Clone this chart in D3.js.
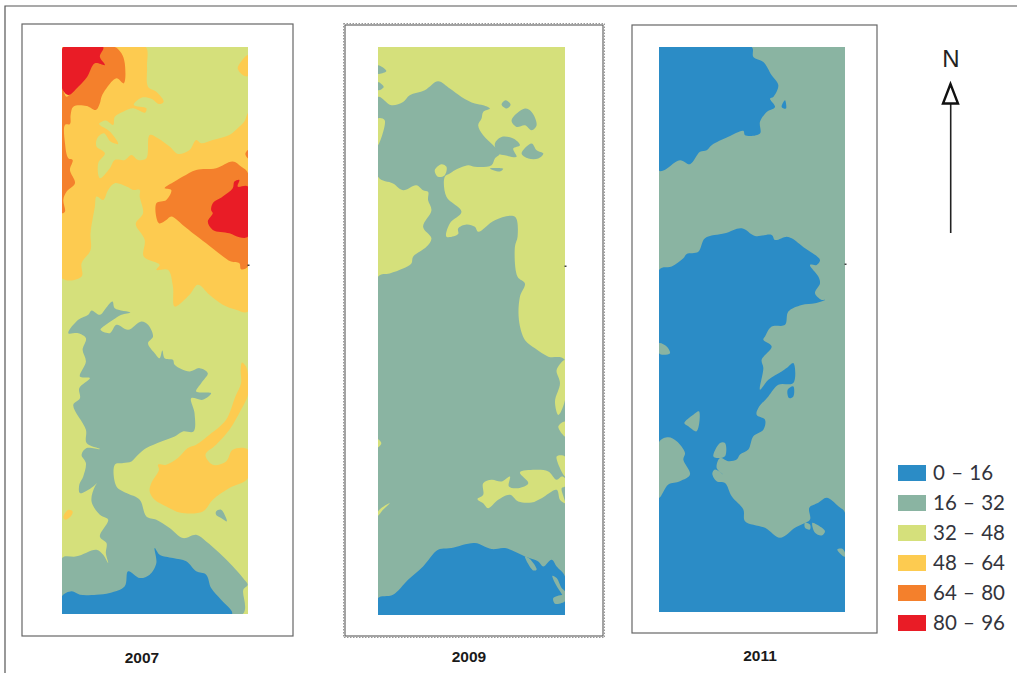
<!DOCTYPE html>
<html>
<head>
<meta charset="utf-8">
<title>Map series 2007 - 2011</title>
<script src="https://cdn.jsdelivr.net/npm/d3@7"></script>
<style>
  html, body { margin: 0; padding: 0; background: #fff; overflow: hidden; }
  svg { display: block; }
</style>
</head>
<body>
<div id="chart"></div>
<script>
// legend classes
const classLabels = ['0 – 16', '16 – 32', '32 – 48', '48 – 64', '64 – 80', '80 – 96'];
const classColors = ['#2b8cc6', '#8ab4a2', '#d5e07b', '#fdcb50', '#f4802c', '#e91c26'];
const years = ['2007', '2009', '2011'];

// region outlines, in map units of each year's map
const y2007Yellow = [[365,141],[438,141],[442,200],[445,260],[470,275],[492,305],[478,312],[455,296],[425,293],[402,315],[440,325],[436,338],[400,325],[370,335],[345,350],[340,375],[318,362],[298,372],[330,395],[355,432],[332,425],[312,400],[292,415],[290,440],[315,460],[295,490],[300,535],[330,505],[345,480],[375,480],[395,465],[415,480],[440,475],[450,405],[475,415],[510,440],[535,462],[570,450],[590,420],[605,430],[640,420],[690,405],[715,385],[735,365],[746,340],[746,935],[710,930],[670,915],[630,885],[595,855],[570,885],[525,920],[520,860],[505,810],[470,810],[480,795],[432,770],[435,720],[408,672],[430,640],[420,590],[420,570],[400,570],[380,560],[345,550],[325,570],[310,600],[290,590],[285,620],[272,700],[272,750],[245,790],[245,830],[186,835],[186,141]];
const y2007YellowTop = [[746,165],[725,185],[715,205],[730,225],[746,228]];
const y2007YellowTail = [[728,1088],[740,1100],[746,1125],[746,1185],[725,1230],[690,1290],[650,1335],[618,1365],[640,1395],[680,1385],[700,1350],[746,1350],[746,1435],[690,1465],[640,1500],[610,1535],[540,1538],[500,1520],[465,1500],[450,1475],[455,1450],[478,1410],[475,1395],[500,1395],[535,1375],[565,1345],[590,1335],[630,1305],[680,1260],[708,1190],[725,1150],[724,1110]];
const y2007YellowSpot = [[190,1552],[205,1530],[218,1535],[212,1550],[195,1560]];
const y2007OrangeTop = [[300,141],[345,141],[365,160],[375,190],[372,250],[350,235],[320,265],[305,290],[300,310],[288,330],[260,318],[220,320],[212,345],[210,372],[195,375],[195,430],[205,475],[218,480],[210,510],[225,550],[200,575],[190,600],[195,635],[186,640],[186,260],[200,290]];
const y2007OrangeMid = [[470,610],[500,600],[515,570],[495,565],[525,545],[550,530],[590,510],[650,505],[700,485],[725,500],[746,520],[746,800],[725,808],[720,790],[695,785],[665,765],[620,730],[580,700],[555,680],[515,650],[500,660],[478,670]];
const y2007OrangeEdge = [[746,450],[738,462],[746,475]];
const y2007RedTop = [[190,141],[310,141],[300,170],[315,195],[285,190],[262,230],[235,260],[205,285],[186,265],[186,175]];
const y2007RedMid = [[746,560],[715,560],[720,540],[705,545],[700,565],[670,590],[640,610],[635,630],[640,640],[625,665],[640,690],[690,700],[720,712],[746,710]];
const y2007Teal = [[205,1000],[235,960],[265,945],[275,932],[300,945],[318,925],[338,905],[345,925],[392,938],[365,945],[340,960],[318,975],[302,990],[330,1000],[350,975],[385,990],[425,965],[445,975],[460,1010],[445,1030],[465,1060],[480,1075],[488,1052],[495,1075],[520,1080],[525,1095],[570,1115],[600,1105],[625,1120],[605,1150],[590,1175],[635,1180],[610,1200],[575,1195],[585,1240],[582,1295],[550,1295],[525,1310],[485,1325],[440,1345],[415,1365],[395,1385],[370,1390],[345,1395],[350,1460],[380,1480],[420,1500],[440,1550],[470,1560],[510,1585],[550,1615],[590,1605],[620,1625],[660,1660],[700,1700],[735,1740],[745,1755],[732,1770],[730,1843],[186,1843],[186,1675],[230,1670],[290,1650],[310,1665],[325,1690],[318,1660],[320,1630],[300,1610],[325,1560],[300,1545],[275,1505],[285,1460],[310,1430],[280,1460],[240,1480],[238,1455],[250,1430],[258,1390],[245,1365],[260,1345],[300,1348],[260,1330],[258,1290],[220,1215],[240,1195],[238,1165],[270,1135],[240,1130],[258,1085],[248,1050],[258,1015],[235,1000]];
const y2007TealSpot = [[650,1535],[665,1530],[680,1555],[682,1565],[665,1555],[650,1545]];
const y2007Blue = [[186,1790],[215,1775],[240,1785],[290,1785],[330,1780],[375,1760],[385,1715],[420,1735],[450,1725],[470,1690],[465,1645],[480,1665],[520,1675],[560,1685],[590,1715],[620,1725],[635,1765],[665,1800],[698,1843],[186,1843]];

const y2009Teal = [[130,260],[170,285],[205,275],[225,255],[270,240],[310,213],[345,235],[380,260],[420,280],[445,285],[465,295],[445,305],[440,325],[430,345],[445,375],[480,410],[495,430],[480,445],[470,465],[420,470],[400,465],[360,480],[345,490],[330,500],[335,560],[380,605],[345,640],[335,680],[370,672],[370,655],[395,643],[420,650],[430,665],[480,630],[540,620],[548,680],[540,710],[548,800],[570,820],[555,860],[552,930],[570,990],[600,1015],[640,1040],[690,1050],[690,1816],[130,1816],[130,800],[165,790],[205,775],[230,760],[235,740],[275,710],[290,685],[265,650],[290,600],[280,570],[280,545],[265,540],[245,525],[205,540],[175,520],[130,500]];
const y2009TealLeftA = [[130,165],[155,182],[130,190]];
const y2009TealLeftB = [[130,215],[147,230],[130,240]];
const y2009IslandA = [[500,283],[512,270],[527,283],[515,295]];
const y2009IslandB = [[530,330],[570,295],[590,305],[605,345],[590,360],[570,345],[545,350]];
const y2009IslandC = [[480,400],[500,380],[535,385],[555,405],[535,415],[545,440],[510,435],[490,430]];
const y2009IslandD = [[560,430],[590,400],[605,420],[625,430],[610,445],[580,445]];
const y2009IslandE = [[465,475],[505,476],[495,484]];
const y2009GreenWedge = [[130,405],[150,330],[130,325]];
const y2009GreenStar = [[300,480],[320,462],[335,470],[330,495],[310,500]];
const y2009GreenEdgeA = [[690,1050],[665,1080],[675,1120],[660,1175],[670,1215],[690,1170]];
const y2009GreenEdgeB = [[690,1235],[670,1250],[690,1280]];
const y2009GreenEdgeC = [[665,1340],[690,1340],[690,1400]];
const y2009GreenIsland = [[428,1468],[445,1455],[445,1420],[470,1410],[500,1415],[525,1400],[522,1430],[550,1435],[580,1420],[555,1388],[600,1380],[640,1385],[665,1410],[680,1400],[690,1405],[690,1430],[680,1435],[690,1480],[675,1470],[665,1440],[620,1465],[590,1478],[550,1475],[525,1455],[490,1470],[460,1495],[445,1480]];
const y2009GreenLeftA = [[130,1505],[165,1480],[145,1500],[130,1518]];
const y2009GreenLeftB = [[130,1288],[140,1300],[130,1312]];
const y2009Blue = [[130,1765],[175,1755],[220,1710],[265,1670],[310,1620],[350,1615],[420,1600],[470,1618],[510,1615],[570,1640],[610,1655],[625,1670],[650,1650],[665,1670],[690,1700],[690,1816],[130,1816]];
const y2009InletA = [[652,1698],[665,1705],[680,1735],[690,1745],[690,1765],[675,1745],[660,1720]];
const y2009InletB = [[655,1765],[690,1757],[690,1775],[660,1782]];
const y2009InletC = [[570,1640],[585,1648],[605,1680],[595,1682]];

const y2011BlueTop = [[102,110],[380,110],[385,140],[415,155],[440,195],[460,225],[445,260],[435,265],[450,290],[425,305],[405,335],[405,370],[360,375],[355,362],[310,380],[260,405],[245,420],[225,425],[195,462],[165,450],[102,482]];
const y2011BlueTip = [[470,290],[480,270],[483,295]];
const y2011Blue = [[102,780],[140,770],[175,745],[185,732],[220,725],[240,685],[300,670],[350,655],[390,678],[440,675],[450,690],[485,680],[500,685],[540,715],[585,750],[575,765],[555,765],[580,800],[585,820],[570,850],[590,870],[600,870],[570,880],[530,885],[490,905],[480,945],[440,950],[420,980],[415,990],[440,1010],[410,1050],[415,1075],[405,1140],[430,1110],[470,1085],[485,1075],[505,1060],[505,1120],[460,1125],[430,1160],[400,1195],[395,1215],[420,1230],[415,1260],[385,1280],[370,1320],[345,1335],[335,1350],[310,1355],[285,1345],[275,1375],[295,1395],[270,1380],[262,1392],[275,1415],[300,1420],[320,1460],[355,1500],[360,1535],[420,1555],[465,1585],[510,1555],[530,1545],[555,1530],[553,1495],[580,1480],[605,1465],[640,1490],[660,1510],[660,1808],[102,1808]];
const y2011BlueIslet = [[488,1140],[505,1130],[505,1160],[492,1165]];
const y2011TealLeft = [[102,1297],[130,1283],[155,1295],[180,1330],[175,1350],[195,1395],[165,1415],[130,1425],[102,1465]];
const y2011TealUpper = [[102,1000],[125,1010],[135,1030],[115,1035],[102,1030]];
const y2011TealIsletA = [[178,1240],[205,1215],[222,1205],[215,1265],[190,1250]];
const y2011TealIsletB = [[265,1340],[285,1300],[300,1300],[300,1340],[275,1345]];
const y2011TealIsletC = [[540,1540],[555,1545],[555,1560],[540,1555]];
const y2011TealIsletD = [[562,1540],[575,1545],[600,1565],[590,1578],[570,1570]];
const y2011TealEdge = [[637,1620],[652,1618],[660,1630],[660,1642],[645,1632]];

// paint order per map: class index (into classLabels), then its rings
const layers2007 = [
  [3, [y2007Yellow, y2007YellowTop, y2007YellowTail, y2007YellowSpot]],
  [4, [y2007OrangeTop, y2007OrangeMid, y2007OrangeEdge]],
  [5, [y2007RedTop, y2007RedMid]],
  [1, [y2007Teal, y2007TealSpot]],
  [0, [y2007Blue]]
];
const layers2009 = [
  [1, [y2009Teal, y2009TealLeftA, y2009TealLeftB, y2009IslandA, y2009IslandB, y2009IslandC, y2009IslandD, y2009IslandE]],
  [2, [y2009GreenWedge, y2009GreenStar, y2009GreenEdgeA, y2009GreenEdgeB, y2009GreenEdgeC, y2009GreenIsland, y2009GreenLeftA, y2009GreenLeftB]],
  [0, [y2009Blue]],
  [1, [y2009InletA, y2009InletB, y2009InletC]]
];
const layers2011 = [
  [0, [y2011BlueTop, y2011BlueTip, y2011Blue, y2011BlueIslet]],
  [1, [y2011TealLeft, y2011TealUpper, y2011TealIsletA, y2011TealIsletB, y2011TealIsletC, y2011TealIsletD, y2011TealEdge]]
];

const w = 1017, h = 673;

const color = d3.scaleOrdinal(classLabels, classColors);

const panels = [
  { year: years[0], layers: layers2007, base: 2, dotted: false,
    frame: [22, 24, 293, 636], box: [62, 47, 248, 614], domX: [186, 746], domY: [141, 1843], labelX: 142, labelY: 662.5, dotY: 265 },
  { year: years[1], layers: layers2009, base: 2, dotted: true,
    frame: [345, 25, 603, 636], box: [378, 47, 565, 615], domX: [130, 690], domY: [110, 1816], labelX: 469, labelY: 661.5, dotY: 266 },
  { year: years[2], layers: layers2011, base: 1, dotted: false,
    frame: [632, 25, 877, 633], box: [659, 47, 845, 612], domX: [102, 660], domY: [110, 1808], labelX: 760, labelY: 661, dotY: 264 }
];

const svg = d3.select('#chart').append('svg')
  .attr('width', w)
  .attr('height', h)
  .style('font-family', '"Liberation Sans", Arial, sans-serif');

// outer page border, open on the right and bottom
svg.append('path')
  .attr('d', d3.line()([[5, 673], [5, 6], [1017, 6]]))
  .attr('fill', 'none')
  .attr('stroke', '#555')
  .attr('stroke-width', 1.2);

const defs = svg.append('defs');

panels.forEach(p => {
  const g = svg.append('g').attr('class', 'panel');
  const [fx0, fy0, fx1, fy1] = p.frame;
  const [bx0, by0, bx1, by1] = p.box;

  if (p.dotted) {
    g.append('rect')
      .attr('x', fx0 - 1.5).attr('y', fy0 - 1.5)
      .attr('width', fx1 - fx0 + 3).attr('height', fy1 - fy0 + 3)
      .attr('fill', 'none')
      .attr('stroke', '#999')
      .attr('stroke-dasharray', '1.5 1.5');
  }

  g.append('rect')
    .attr('x', fx0).attr('y', fy0)
    .attr('width', fx1 - fx0).attr('height', fy1 - fy0)
    .attr('fill', '#fff')
    .attr('stroke', '#666')
    .attr('stroke-width', 1.2);

  const xScale = d3.scaleLinear().domain(p.domX).range([bx0, bx1]);
  const yScale = d3.scaleLinear().domain(p.domY).range([by0, by1]);
  const ringPath = d3.line()
    .x(d => xScale(d[0]))
    .y(d => yScale(d[1]))
    .curve(d3.curveCatmullRomClosed.alpha(0.5));

  const clipId = 'clip' + p.year;
  defs.append('clipPath').attr('id', clipId)
    .append('rect')
    .attr('x', bx0).attr('y', by0)
    .attr('width', bx1 - bx0).attr('height', by1 - by0);

  const map = g.append('g').attr('clip-path', 'url(#' + clipId + ')');

  map.append('rect')
    .attr('x', bx0).attr('y', by0)
    .attr('width', bx1 - bx0).attr('height', by1 - by0)
    .attr('fill', classColors[p.base]);

  p.layers.forEach(([cls, rings]) => {
    map.append('g')
      .selectAll('path')
      .data(rings)
      .enter()
      .append('path')
      .attr('d', d => ringPath(d))
      .attr('fill', color(classLabels[cls]));
  });

  // small stray tick on the map edge
  g.append('rect')
    .attr('x', bx1 - 0.5).attr('y', p.dotY - 0.5)
    .attr('width', 2).attr('height', 1.5)
    .attr('fill', '#444');

  svg.append('text')
    .attr('x', p.labelX)
    .attr('y', p.labelY)
    .attr('text-anchor', 'middle')
    .attr('font-size', 15.5)
    .attr('font-weight', 'bold')
    .attr('fill', '#1a1a1a')
    .text(p.year);
});

// north arrow
const north = svg.append('g').attr('class', 'north');
north.append('text')
  .attr('x', 951).attr('y', 66.5)
  .attr('text-anchor', 'middle')
  .attr('font-size', 24)
  .attr('fill', '#222')
  .text('N');
north.append('line')
  .attr('x1', 950.7).attr('x2', 950.7)
  .attr('y1', 104).attr('y2', 233)
  .attr('stroke', '#222')
  .attr('stroke-width', 1.6);
north.append('path')
  .attr('d', d3.line()([[950.5, 84], [943, 103.5], [958, 103.5]]) + 'Z')
  .attr('fill', '#fff')
  .attr('stroke', '#111')
  .attr('stroke-width', 2.4);

// legend
const legendY = d3.scaleBand().domain(classLabels).range([465, 645]);
const legend = svg.append('g').attr('class', 'legend');
legend.selectAll('rect')
  .data(classLabels)
  .enter()
  .append('rect')
  .attr('x', 898)
  .attr('y', d => legendY(d))
  .attr('width', 28)
  .attr('height', 16)
  .attr('fill', d => color(d));
legend.selectAll('text')
  .data(classLabels)
  .enter()
  .append('text')
  .attr('x', 933)
  .attr('y', d => legendY(d) + 15)
  .attr('font-family', 'Lato, sans-serif')
  .attr('font-size', 20.5)
  .attr('word-spacing', 1)
  .attr('fill', '#33343c')
  .text(d => d);
</script>
</body>
</html>
